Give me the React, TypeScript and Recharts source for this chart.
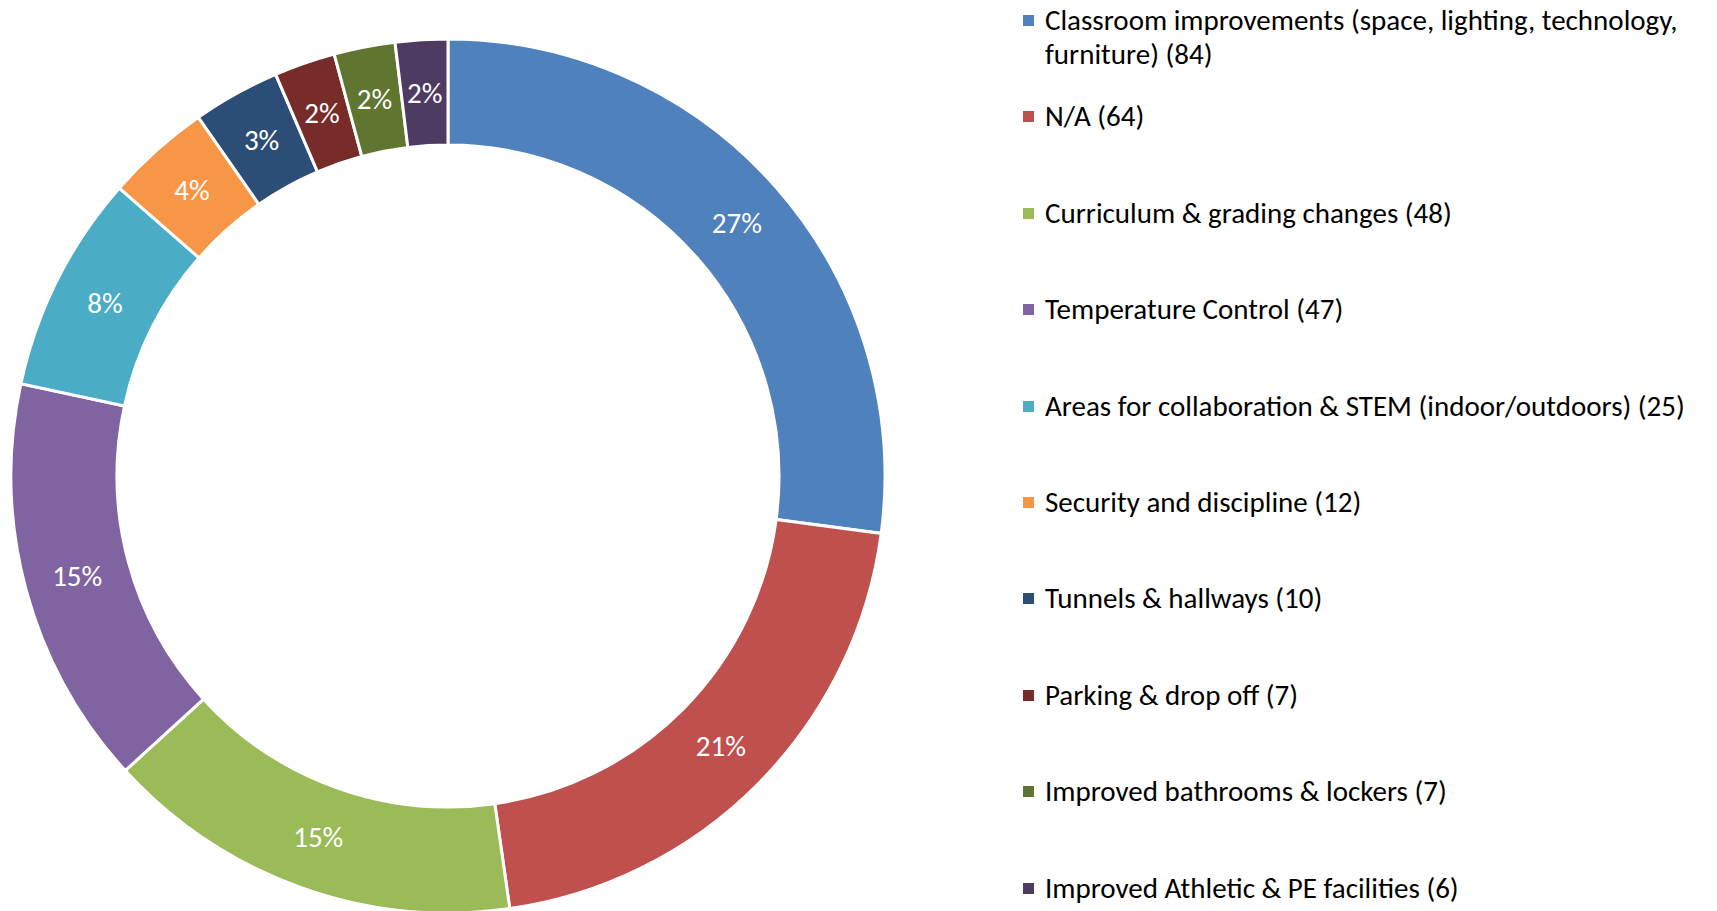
import { PieChart, Pie, Cell } from 'recharts'

const categories = [
  'Classroom improvements (space, lighting, technology, furniture)',
  'N/A',
  'Curriculum & grading changes',
  'Temperature Control',
  'Areas for collaboration & STEM (indoor/outdoors)',
  'Security and discipline',
  'Tunnels & hallways',
  'Parking & drop off',
  'Improved bathrooms & lockers',
  'Improved Athletic & PE facilities',
]

const counts = [84, 64, 48, 47, 25, 12, 10, 7, 7, 6]

const colors = [
  '#4F81BD', '#C0504D', '#9BBB59', '#8064A2', '#4BACC6',
  '#F79646', '#2C4D75', '#772C2A', '#5F7530', '#4D3B62',
]

const FONT = 'Carlito, Calibri, Lato, "Open Sans", sans-serif'

const data = categories.map((name, i) => ({ name, value: counts[i] }))

const RADIAN = Math.PI / 180

// percentage label in the middle of each ring segment
function renderLabel(props: any) {
  const { cx, cy, midAngle, innerRadius, outerRadius, percent } = props
  const r = (innerRadius + outerRadius) / 2
  const x = cx + r * Math.cos(-midAngle * RADIAN)
  const y = cy + r * Math.sin(-midAngle * RADIAN)
  return (
    <text x={x} y={y} fill="#fff" fontSize={29} fontFamily={FONT} textAnchor="middle" dominantBaseline="central">
      {`${Math.round(percent * 100)}%`}
    </text>
  )
}

function ChartLegend() {
  return (
    <div style={{ position: 'absolute', left: 1023, top: 3, fontFamily: FONT, fontSize: 29, color: '#000' }}>
      {data.map((d, i) => (
        <div key={d.name} style={{ position: 'relative', height: 96.4, paddingLeft: 22, lineHeight: '34px', width: 670 }}>
          <span style={{ position: 'absolute', left: 0, top: 12, width: 11, height: 11, background: colors[i] }} />
          {`${d.name} (${d.value})`}
        </div>
      ))}
    </div>
  )
}

export default function App() {
  return (
    <div style={{ position: 'absolute', left: 0, top: 0, width: 1717, height: 911, background: '#fff' }}>
      <PieChart width={1717} height={911} margin={{ top: 0, right: 0, bottom: 0, left: 0 }}>
        <Pie
          data={data}
          dataKey="value"
          nameKey="name"
          cx={448}
          cy={476}
          innerRadius={331}
          outerRadius={437}
          startAngle={90}
          endAngle={-270}
          stroke="#fff"
          strokeWidth={3}
          label={renderLabel}
          labelLine={false}
          isAnimationActive={false}
        >
          {data.map((d, i) => (
            <Cell key={d.name} fill={colors[i]} />
          ))}
        </Pie>
      </PieChart>
      <ChartLegend />
    </div>
  )
}
